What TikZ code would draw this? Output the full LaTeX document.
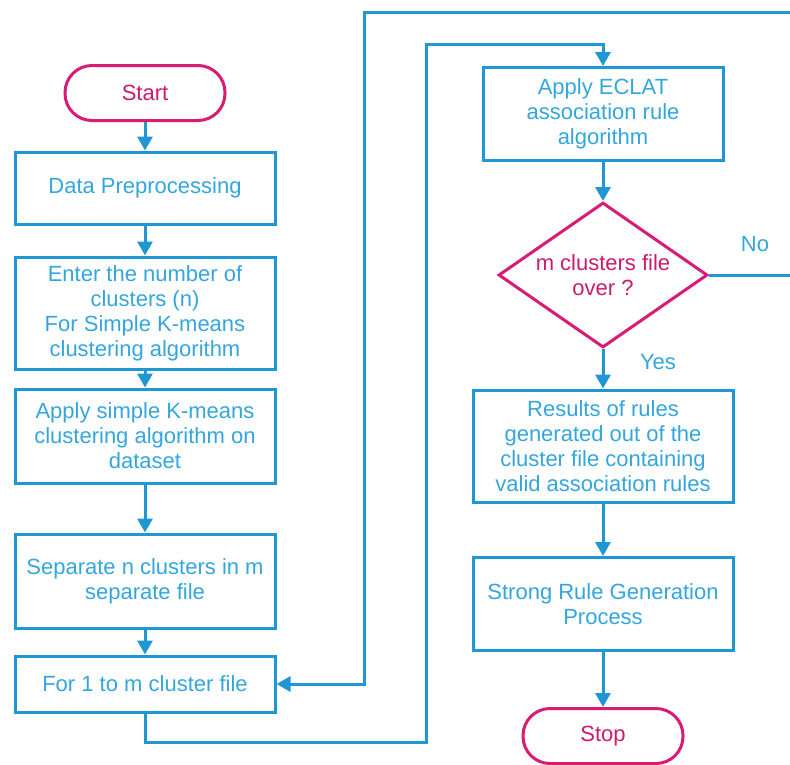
\documentclass[tikz,border=0pt]{standalone}
\usepackage{fontspec}
\setmainfont{Liberation Sans}
\usetikzlibrary{arrows.meta,shapes.geometric}
\definecolor{lineblue}{HTML}{1F97D4}
\definecolor{textblue}{HTML}{33A6DE}
\definecolor{magline}{HTML}{D81B73}
\definecolor{magtext}{HTML}{CC1A6E}
\tikzset{
  box/.style={draw=lineblue, line width=3pt, rectangle, inner sep=0pt, align=center,
    text=textblue, font=\fontsize{22}{25}\selectfont},
  term/.style={draw=magline, line width=3pt, rectangle, rounded corners=27pt, inner sep=0pt,
    minimum width=160pt, minimum height=55pt, text=magtext, font=\fontsize{22}{25}\selectfont},
  dec/.style={draw=magline, line width=3pt, diamond, aspect=1.44, inner sep=0pt, align=center,
    minimum width=209pt, minimum height=145pt, text=magtext, font=\fontsize{22}{25}\selectfont},
  conn/.style={draw=lineblue, line width=3pt},
  arr/.style={conn, -{Triangle[width=15pt,length=14pt]}},
  lbl/.style={text=textblue, font=\fontsize{22}{25}\selectfont, inner sep=0pt}
}
\begin{document}
\begin{tikzpicture}[x=1pt,y=-1pt]
\useasboundingbox (0,0) rectangle (790,764);
\clip (0,0) rectangle (790,764);
% left column
\node[term] (start) at (145,93) {Start};
\node[box, minimum width=260pt, minimum height=72pt] (dp) at (145,188) {Data Preprocessing};
\node[box, minimum width=260pt, minimum height=112pt] (enter) at (145,313) {Enter the number of\\clusters (n)\\For Simple K-means\\clustering algorithm};
\node[box, minimum width=260pt, minimum height=94pt] (km) at (145,436) {Apply simple K-means\\clustering algorithm on\\dataset};
\node[box, minimum width=260pt, minimum height=94pt] (sep) at (145,581) {Separate n clusters in m\\separate file};
\node[box, minimum width=260pt, minimum height=56pt] (forf) at (145,684) {For 1 to m cluster file};
% right column
\node[box, minimum width=240pt, minimum height=93pt] (eclat) at (603,114) {Apply ECLAT\\association rule\\algorithm};
\node[dec] (mdec) at (603,275) {m clusters file\\over ?};
\node[box, minimum width=260pt, minimum height=112pt] (res) at (603,446) {Results of rules\\generated out of the\\cluster file containing\\valid association rules};
\node[box, minimum width=260pt, minimum height=93pt] (strong) at (603,604) {Strong Rule Generation\\Process};
\node[term] (stop) at (603,736) {Stop};
% labels
\node[lbl] (no) at (755,244) {No};
\node[lbl] (yes) at (658,362) {Yes};
% coordinates
\coordinate (b2) at (426,742);
\coordinate (b3) at (426,44);
\coordinate (r1) at (810,275);
\coordinate (r2) at (810,12);
\coordinate (l1) at (364,12);
% connectors
\draw[arr] (start) -- (dp);
\draw[arr] (dp) -- (enter);
\draw[arr] (enter) -- (km);
\draw[arr] (km) -- (sep);
\draw[arr] (sep) -- (forf);
\draw[arr] (forf.south) |- (b2) -- (b3) -| (eclat.north);
\draw[arr] (eclat) -- (mdec);
\draw[arr] (mdec) -- (res);
\draw[arr] (res) -- (strong);
\draw[arr] (strong) -- (stop);
\draw[arr] (mdec.east) -- (r1) -- (r2) -- (l1) |- (forf.east);
\end{tikzpicture}
\end{document}
